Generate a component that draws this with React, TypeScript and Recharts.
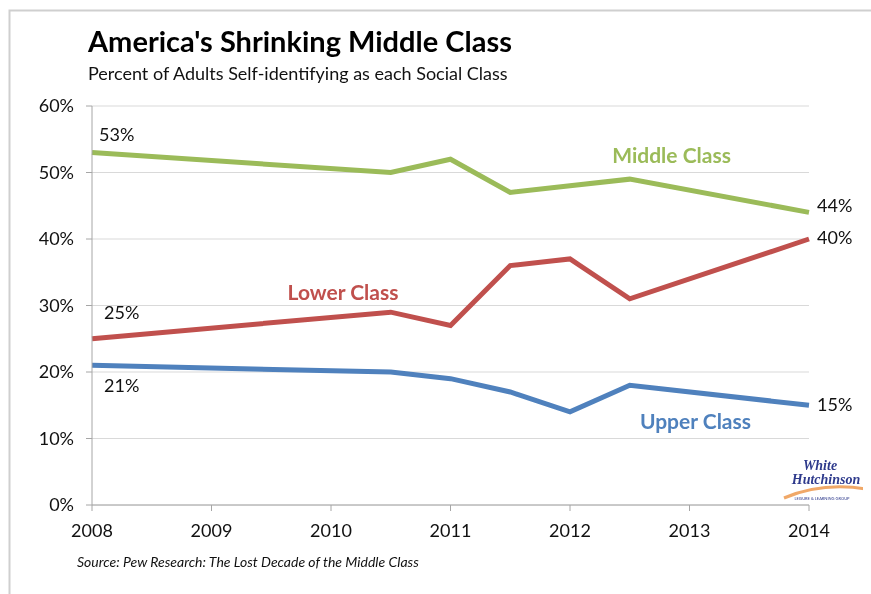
import React from "react";
import { LineChart, Line, XAxis, YAxis, CartesianGrid, LabelList, ReferenceDot } from "recharts";

const years = [2008, 2010.5, 2011, 2011.5, 2012, 2012.5, 2014];
const middleClass = [53, 50, 52, 47, 48, 49, 44];
const lowerClass = [25, 29, 27, 36, 37, 31, 40];
const upperClass = [21, 20, 19, 17, 14, 18, 15];
const xTicks = [2008, 2009, 2010, 2011, 2012, 2013, 2014];
const yTicks = [0, 10, 20, 30, 40, 50, 60];
const seriesNames = [
  { name: "Middle Class", x: 2012.85, y: 52.6 },
  { name: "Lower Class", x: 2010.1, y: 31.9 },
  { name: "Upper Class", x: 2013.05, y: 12.6 },
];

const data = years.map((y, i) => ({
  year: y,
  middle: middleClass[i],
  lower: lowerClass[i],
  upper: upperClass[i],
}));

const FONT = "Lato, 'Open Sans', sans-serif";
const colors = { middle: "#9BBB59", lower: "#C0504D", upper: "#4F81BD" };

type Off = { first: [number, number]; last: [number, number] };
const offsets: Record<string, Off> = {
  middle: { first: [7, -19], last: [8, -7] },
  lower: { first: [12, -27], last: [8, -2] },
  upper: { first: [12, 20], last: [8, -1] },
};

const makeLabel = (key: string) => (props: any) => {
  const { x, y, value, index } = props;
  const n = years.length;
  if (index !== 0 && index !== n - 1) return null;
  const o = index === 0 ? offsets[key].first : offsets[key].last;
  return (
    <text
      x={x + o[0]}
      y={y + o[1]}
      dominantBaseline="central"
      textAnchor="start"
      fontFamily={FONT}
      fontSize={18}
      fill="#111"
    >
      {value}%
    </text>
  );
};

export default function App() {
  return (
    <div style={{ position: "relative", width: 855, height: 578, fontFamily: FONT }}>
      <style>{"html,body{overflow:hidden}"}</style>
      <svg
        width={871}
        height={594}
        style={{ position: "fixed", left: 0, top: 0, pointerEvents: "none" }}
      >
        <path d="M9.5 594 V10.5 H871" stroke="#cfcfcf" strokeWidth={2} fill="none" />
      </svg>
      <div
        style={{
          position: "absolute",
          left: 80,
          top: 15,
          fontSize: 29,
          fontWeight: 700,
          color: "#000",
          whiteSpace: "nowrap",
          lineHeight: "36px",
        }}
      >
        America's Shrinking Middle Class
      </div>
      <div
        style={{
          position: "absolute",
          left: 80,
          top: 54,
          fontSize: 18,
          color: "#111",
          whiteSpace: "nowrap",
        }}
      >
        Percent of Adults Self-identifying as each Social Class
      </div>
      <div
        style={{
          position: "absolute",
          left: 69,
          top: 545,
          fontSize: 14,
          fontStyle: "italic",
          color: "#111",
          whiteSpace: "nowrap",
        }}
      >
        Source: Pew Research: The Lost Decade of the Middle Class
      </div>
      <div style={{ position: "absolute", left: 770, top: 448, width: 92, height: 50 }}>
        <svg width={92} height={50}>
          <path d="M6 42 Q44 26 88 33" stroke="#F0A868" strokeWidth={3} fill="none" />
          <text x={42} y={14} textAnchor="middle" fontFamily="'Liberation Serif', serif" fontStyle="italic" fontWeight={700} fontSize={14} fill="#2E3A8C">White</text>
          <text x={48} y={28} textAnchor="middle" fontFamily="'Liberation Serif', serif" fontStyle="italic" fontWeight={700} fontSize={14} fill="#2E3A8C">Hutchinson</text>
          <text x={44} y={44} textAnchor="middle" fontFamily={FONT} fontSize={4} fill="#2E3A8C">LEISURE &amp; LEARNING GROUP</text>
        </svg>
      </div>
      <div style={{ position: "absolute", left: 0, top: 0 }}>
        <LineChart
          width={855}
          height={578}
          data={data}
          margin={{ top: 98, right: 54, left: 0, bottom: 51 }}
        >
          <CartesianGrid vertical={false} stroke="#d9d9d9" strokeWidth={1} />
          <XAxis
            dataKey="year"
            type="number"
            domain={[2008, 2014]}
            ticks={xTicks}
            allowDecimals={false}
            height={30}
            tickSize={6}
            tickMargin={13}
            stroke="#a6a6a6"
            tick={{ fill: "#111", fontSize: 18, fontFamily: FONT }}
          />
          <YAxis
            type="number"
            domain={[0, 60]}
            ticks={yTicks}
            width={84}
            tickSize={6}
            tickMargin={12}
            stroke="#a6a6a6"
            tickFormatter={(v: number) => `${v}%`}
            tick={{ fill: "#111", fontSize: 18, fontFamily: FONT }}
          />
          <Line type="linear" dataKey="middle" stroke={colors.middle} strokeWidth={5} dot={false} isAnimationActive={false}>
            <LabelList dataKey="middle" content={makeLabel("middle")} />
          </Line>
          <Line type="linear" dataKey="lower" stroke={colors.lower} strokeWidth={5} dot={false} isAnimationActive={false}>
            <LabelList dataKey="lower" content={makeLabel("lower")} />
          </Line>
          <Line type="linear" dataKey="upper" stroke={colors.upper} strokeWidth={5} dot={false} isAnimationActive={false}>
            <LabelList dataKey="upper" content={makeLabel("upper")} />
          </Line>
          {seriesNames.map((s, i) => {
            const c = [colors.middle, colors.lower, colors.upper][i];
            return (
              <ReferenceDot
                key={s.name}
                x={s.x}
                y={s.y}
                r={0}
                fill="none"
                stroke="none"
                label={{ value: s.name, position: "center", fill: c, fontSize: 21, fontWeight: 700, fontFamily: FONT }}
              />
            );
          })}
        </LineChart>
      </div>
    </div>
  );
}
